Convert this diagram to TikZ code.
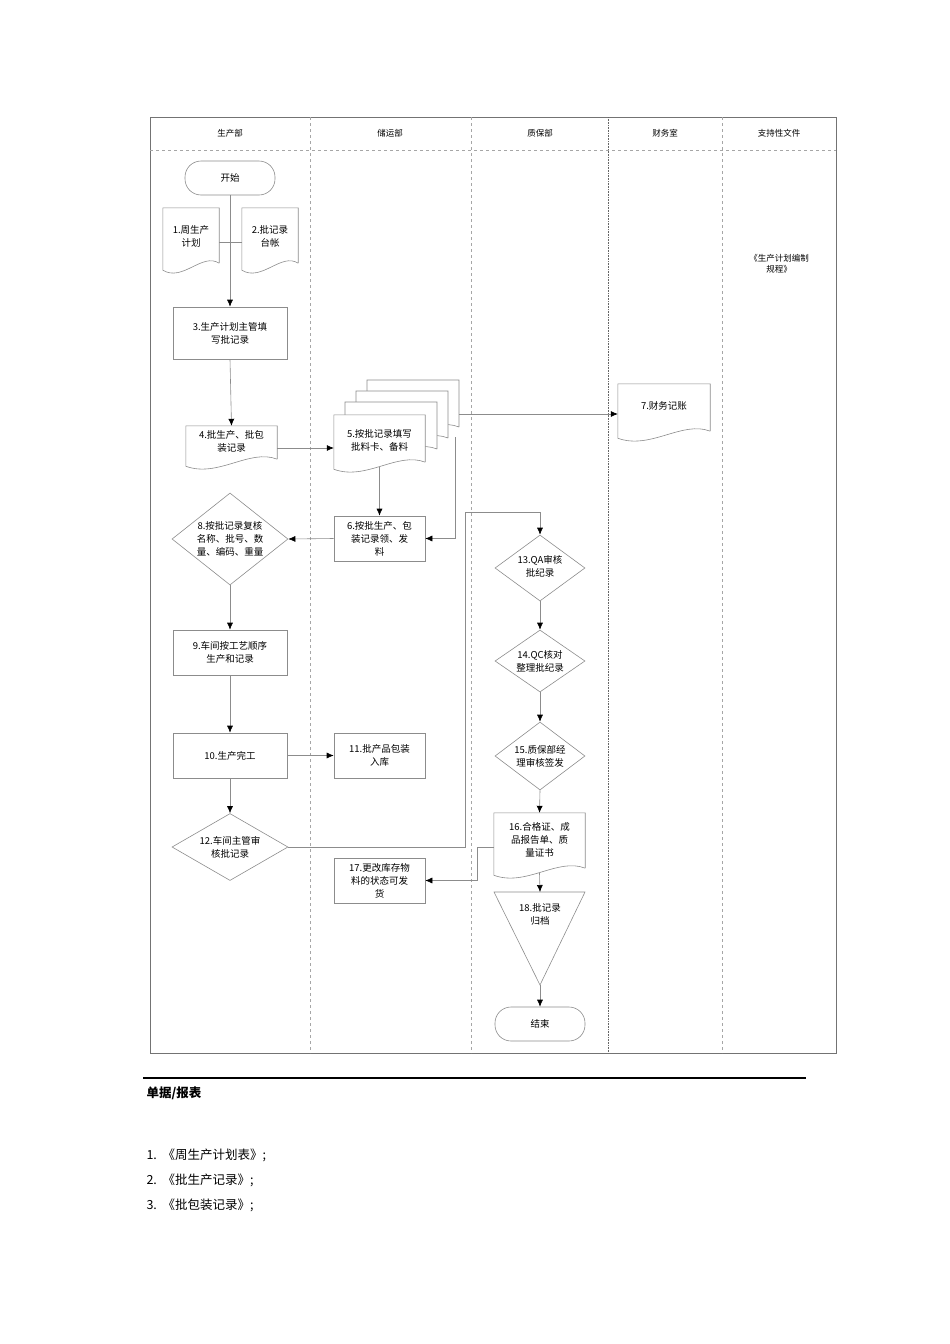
\documentclass[tikz,border=0pt]{standalone}
\usepackage{fontspec}
\setmainfont{Noto Sans CJK SC}
\usetikzlibrary{arrows.meta,shapes.geometric,calc}
\newcommand\docw[1]{\draw[ln,fill=white] ($(#1.south east)+(0,-5)$) -- (#1.north east) -- (#1.north west) -- ($(#1.south west)+(0,2)$) .. controls ($(#1.south west)!0.35!(#1.south east)+(0,14)$) and ($(#1.south west)!0.7!(#1.south east)+(0,-16)$) .. ($(#1.south east)+(0,-5)$);}
\newcommand\docraw[4]{\draw[ln,fill=white] (#3,#4-5) -- (#3,#2) -- (#1,#2) -- (#1,#4+2) .. controls ({#1+0.35*(#3-#1)},#4+14) and ({#1+0.7*(#3-#1)},#4-16) .. (#3,#4-5);}
\begin{document}
\begin{tikzpicture}[x=1pt,y=-1pt,
  ln/.style={draw=black!45,line width=0.6pt},
  ar/.style={ln,-{Latex[length=7pt,width=6pt,black]}},
  lane/.style={draw=black!35,dashed,line width=0.5pt},
  txt/.style={font=\fontsize{9.5}{13}\selectfont,align=center,inner sep=0pt},
  hd/.style={font=\fontsize{8.5}{11}\selectfont},
  box/.style={ln,rectangle,minimum width=#1,align=center,font=\fontsize{9.5}{13}\selectfont,inner sep=2pt},
  dnode/.style={rectangle,inner sep=0pt},
  diam/.style={ln,diamond,inner sep=0pt},
  term/.style={ln,rectangle,rounded corners=16pt,minimum width=90pt,minimum height=34pt,font=\fontsize{9.5}{13}\selectfont}]
\useasboundingbox (0,0) rectangle (950,1344);
% frame
\draw[draw=black!55,line width=0.7pt] (150,117) rectangle (836,1053);
\draw[lane] (150,150) -- (836,150);
\draw[lane] (310,117) -- (310,1053);
\draw[lane] (471,117) -- (471,1053);
\draw[draw=black!60,densely dotted,line width=0.6pt] (608,117) -- (608,1053);
\draw[lane] (722,117) -- (722,1053);
\node[hd] (h1) at (230,133) {生产部};
\node[hd] (h2) at (390,133) {储运部};
\node[hd] (h3) at (540,133) {质保部};
\node[hd] (h4) at (665,133) {财务室};
\node[hd] (h5) at (779,133) {支持性文件};
\node[hd,align=center] (sup) at (779,264) {《生产计划编制\\规程》};
% nodes
\node[term] (st) at (230,178) {开始};
\node[dnode,minimum width=56pt,minimum height=60pt] (d1) at (191,238) {};
\node[dnode,minimum width=56pt,minimum height=60pt] (d2) at (270,238) {};
\docw{d1}\docw{d2}
\node[txt] at (191,236) {1.周生产\\计划};
\node[txt] at (270,236) {2.批记录\\台帐};
\node[box=114pt,minimum height=52pt] (n3) at (230,333) {3.生产计划主管填\\写批记录};
\node[dnode,minimum width=91pt,minimum height=38pt] (n4) at (231.5,445) {};
\docw{n4}
\node[txt] at (231.5,441) {4.批生产、批包\\装记录};
% stack 5
\docraw{367}{380}{459}{432}
\docraw{356}{391}{448}{443}
\docraw{345}{402}{437}{454}
\node[dnode,minimum width=91pt,minimum height=52pt] (n5) at (379.5,441) {};
\docw{n5}
\node[txt] at (379.5,440) {5.按批记录填写\\批料卡、备料};
\node[box=91pt,minimum height=45pt] (n6) at (379.5,538.5) {6.按批生产、包\\装记录领、发\\料};
\node[diam,minimum width=116pt,minimum height=92pt] (n8) at (230,539) {};
\node[txt] at (230,539) {8.按批记录复核\\名称、批号、数\\量、编码、重量};
\node[box=114pt,minimum height=45pt] (n9) at (230,652.5) {9.车间按工艺顺序\\生产和记录};
\node[box=114pt,minimum height=45pt] (n10) at (230,755.5) {10.生产完工};
\node[box=91pt,minimum height=45pt] (n11) at (379.5,755.5) {11.批产品包装\\入库};
\node[diam,minimum width=116pt,minimum height=67pt] (n12) at (230,847) {};
\node[txt] at (230,847) {12.车间主管审\\核批记录};
\node[box=91pt,minimum height=45pt] (n17) at (379.5,880.5) {17.更改库存物\\料的状态可发\\货};
\node[dnode,minimum width=92pt,minimum height=52pt] (n7) at (664,410) {};
\docw{n7}
\node[txt] at (664,406) {7.财务记账};
\node[diam,minimum width=90pt,minimum height=66pt] (n13) at (540,568) {};
\node[txt] at (540,566) {13.QA审核\\批纪录};
\node[diam,minimum width=90pt,minimum height=62pt] (n14) at (540,661) {};
\node[txt] at (540,661) {14.QC核对\\整理批纪录};
\node[diam,minimum width=90pt,minimum height=68pt] (n15) at (540,756) {};
\node[txt] at (540,756) {15.质保部经\\理审核签发};
\node[dnode,minimum width=91pt,minimum height=60pt] (n16) at (539.5,843) {};
\docw{n16}
\node[txt] at (539.5,840) {16.合格证、成\\品报告单、质\\量证书};
\coordinate (t1) at (494,892); \coordinate (t2) at (585,892); \coordinate (t3) at (540,985);
\draw[ln] (t1) -- (t2) -- (t3) -- cycle;
\node[txt] (n18) at (540,914) {18.批记录\\归档};
\node[term] (en) at (540,1024) {结束};
% connectors
\draw[ar] (st.south) -- (n3.north);
\coordinate (j1) at (230,242);
\draw[ln] (d1.east |- j1) -- (d2.west |- j1);
\draw[ar] (n3.south) -- (n4.north);
\draw[ar] (n4.east |- 0,448) -- (n5.west |- 0,448);
\draw[ar] (n5.south) -- (n6.north);
\coordinate (k1) at (459,414);
\draw[ar] (k1) -- (n7.west |- k1);
\coordinate (k2) at (455,437);
\draw[ar] (k2) |- (n6.east);
\draw[ar] (n6.west) -- (n8.east);
\draw[ar] (n8.south) -- (n9.north);
\draw[ar] (n9.south) -- (n10.north);
\draw[ar] (n10.east) -- (n11.west);
\draw[ar] (n10.south) -- (n12.north);
\coordinate (c1) at (465,847); \coordinate (c2) at (540,512);
\draw[ar] (n12.east) -- (c1) |- (c2) -- (n13.north);
\draw[ar] (n13.south) -- (n14.north);
\draw[ar] (n14.south) -- (n15.north);
\draw[ar] (n15.south) -- (n16.north);
\coordinate (c3) at (477,847);
\draw[ar] (n16.west |- c3) -- (c3) |- (n17.east);
\draw[ar] (n16.south) -- (540,892);
\draw[ar] (t3) -- (en.north);
% bottom text
\draw[line width=1.6pt] (143,1078) -- (806,1078);
\node[anchor=west,font=\bfseries\fontsize{12.5}{15}\selectfont] (ti) at (143,1093) {单据/报表};
\node[anchor=west,font=\fontsize{12.5}{15}\selectfont] (l1) at (143,1155) {1.\ \ 《周生产计划表》;};
\node[anchor=west,font=\fontsize{12.5}{15}\selectfont] (l2) at (143,1180) {2.\ \ 《批生产记录》;};
\node[anchor=west,font=\fontsize{12.5}{15}\selectfont] (l3) at (143,1205) {3.\ \ 《批包装记录》;};
\end{tikzpicture}
\end{document}
